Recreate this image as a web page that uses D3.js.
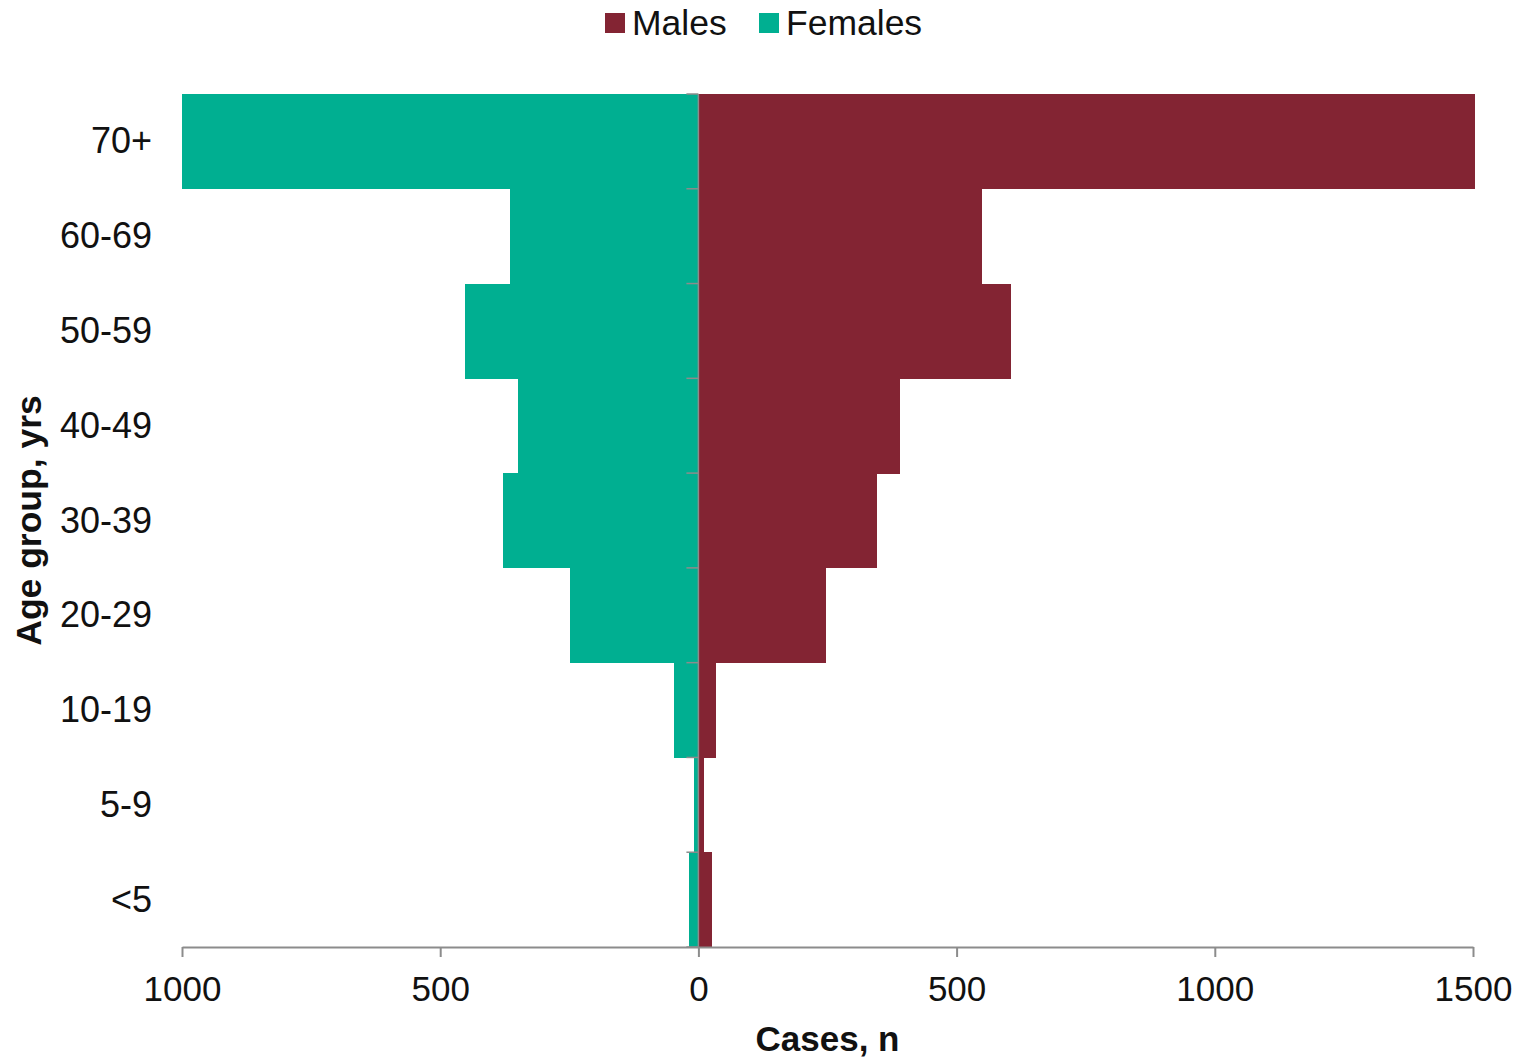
<!DOCTYPE html>
<html><head><meta charset="utf-8">
<script src="https://cdn.jsdelivr.net/npm/d3@7"></script>
<style>body{margin:0;background:#fff}svg{display:block;font-family:"Liberation Sans",Arial,sans-serif}</style>
</head><body>
<svg id="c" width="1515" height="1060"></svg>
<script>
const ageGroups = ["70+","60-69","50-59","40-49","30-39","20-29","10-19","5-9","<5"];
const males   = [1503, 550, 605, 391, 345, 248, 34, 10, 26];
const females = [1000, 365, 452, 349, 379, 249, 48, 8, 18];
const xTicks = [-1000, -500, 0, 500, 1000, 1500];
const seriesNames = ["Males","Females"];
const colors = {Males:"#832433", Females:"#00AF91"};

(function(){
const svg = d3.select("#c");
const pL = 182, pR = 1473, pT = 94, pB = 947;
const x = d3.scaleLinear().domain([-1000, 1500]).range([pL, pR]);
const y = d3.scaleBand().domain(ageGroups).range([pT, pB]).padding(0);

// bars
svg.append("g").attr("shape-rendering","crispEdges").selectAll("rect").data(ageGroups).join("rect")
  .attr("x", (d,i)=>x(-females[i])).attr("y", d=>y(d))
  .attr("width", (d,i)=>x(0)-x(-females[i])).attr("height", y.bandwidth()+0.5)
  .attr("fill", colors.Females);
svg.append("g").attr("shape-rendering","crispEdges").selectAll("rect").data(ageGroups).join("rect")
  .attr("x", x(0)).attr("y", d=>y(d))
  .attr("width", (d,i)=>x(males[i])-x(0)).attr("height", y.bandwidth()+0.5)
  .attr("fill", colors.Males);

// x axis
const xa = svg.append("g").attr("transform",`translate(0,${pB})`)
  .call(d3.axisBottom(x).tickValues(xTicks).tickFormat(d=>Math.abs(d)).tickSize(10).tickSizeOuter(0));
xa.select(".domain").attr("stroke","#8c8c8c").attr("stroke-width",2);
xa.selectAll(".tick line").attr("stroke","#8c8c8c").attr("stroke-width",2);
xa.selectAll(".tick text").attr("font-size",35).attr("fill","#111").attr("dy","0").attr("y",54)
  .attr("font-family","Liberation Sans, Arial, sans-serif");

// y axis (center line with ticks at band boundaries)
const yg = svg.append("g");
yg.append("line").attr("x1",x(0)).attr("x2",x(0)).attr("y1",pT).attr("y2",pB)
  .attr("stroke","#8c8c8c").attr("stroke-width",1.5);
const bounds = ageGroups.map(d=>y(d)).concat([pB]);
yg.selectAll("line.t").data(bounds).join("line").attr("class","t")
  .attr("x1",x(0)-12).attr("x2",x(0)).attr("y1",d=>d).attr("y2",d=>d)
  .attr("stroke","#8c8c8c").attr("stroke-width",1.5);

// y labels
svg.append("g").selectAll("text").data(ageGroups).join("text")
  .attr("x",152).attr("y",d=>y(d)+y.bandwidth()/2+12)
  .attr("text-anchor","end").attr("font-size",36).attr("fill","#111").text(d=>d);

// titles
svg.append("text").attr("x",(pL+pR)/2).attr("y",1051).attr("text-anchor","middle")
  .attr("font-size",35).attr("font-weight","bold").attr("fill","#111").text("Cases, n");
svg.append("text").attr("transform",`translate(41,${(pT+pB)/2}) rotate(-90)`)
  .attr("text-anchor","middle").attr("font-size",35.5).attr("font-weight","bold").attr("fill","#111")
  .text("Age group, yrs");

// legend
const lg = svg.append("g");
const legendX = [605, 759];
seriesNames.forEach((s,i)=>{
  lg.append("rect").attr("x",legendX[i]).attr("y",13).attr("width",20).attr("height",20).attr("fill",colors[s]);
  lg.append("text").attr("x",legendX[i]+27).attr("y",35).attr("font-size",35.5).attr("fill","#111").text(s);
});
})();
</script>
</body></html>
